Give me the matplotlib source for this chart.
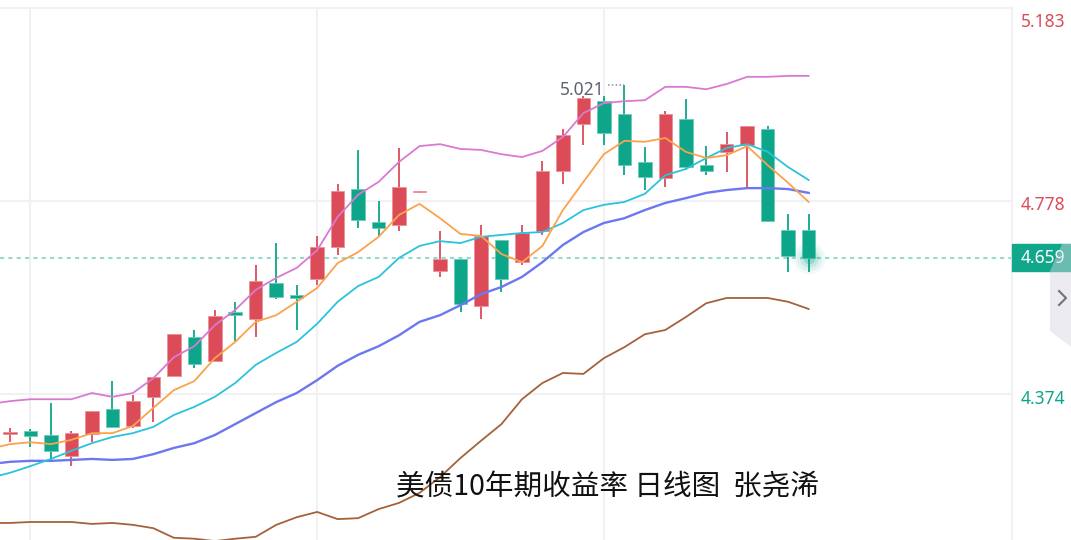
import numpy as np
import matplotlib
matplotlib.use("Agg")
import matplotlib.pyplot as plt
from matplotlib.patches import Rectangle, Polygon
from matplotlib.lines import Line2D

# ---------------- data (US 10Y yield, daily) ----------------
opens = [4.290, 4.297, 4.288, 4.244, 4.290, 4.343, 4.307, 4.368, 4.412, 4.493,
         4.443, 4.546, 4.531, 4.606, 4.581, 4.615, 4.682, 4.803, 4.734, 4.728,
         4.796, 4.632, 4.657, 4.558, 4.696, 4.650, 4.715, 4.841, 4.939, 4.987,
         4.960, 4.860, 4.826, 4.950, 4.853, 4.881, 4.895, 4.929, 4.717, 4.717]
highs = [4.303, 4.301, 4.355, 4.297, 4.338, 4.401, 4.372, 4.410, 4.500, 4.508,
         4.550, 4.567, 4.644, 4.690, 4.602, 4.705, 4.814, 4.885, 4.778, 4.889,
         4.799, 4.715, 4.657, 4.728, 4.696, 4.728, 4.862, 4.929, 4.998, 4.998,
         5.021, 4.891, 4.966, 4.992, 4.893, 4.923, 4.935, 4.935, 4.751, 4.751]
lows = [4.274, 4.263, 4.236, 4.223, 4.274, 4.305, 4.303, 4.315, 4.412, 4.428,
        4.443, 4.485, 4.493, 4.573, 4.508, 4.602, 4.665, 4.722, 4.705, 4.715,
        4.795, 4.619, 4.546, 4.531, 4.588, 4.644, 4.707, 4.814, 4.895, 4.895,
        4.832, 4.801, 4.807, 4.843, 4.832, 4.839, 4.807, 4.734, 4.629, 4.629]
closes = [4.294, 4.286, 4.255, 4.292, 4.338, 4.305, 4.359, 4.410, 4.500, 4.437,
          4.537, 4.539, 4.611, 4.577, 4.575, 4.682, 4.799, 4.738, 4.722, 4.807,
          4.798, 4.657, 4.562, 4.705, 4.615, 4.711, 4.841, 4.916, 4.994, 4.920,
          4.853, 4.828, 4.960, 4.849, 4.841, 4.897, 4.935, 4.736, 4.663, 4.659]

# indicator lines (first value belongs to the bar just left of the view)
boll_upper = [4.353, 4.359, 4.363, 4.363, 4.363, 4.376, 4.368, 4.376, 4.407, 4.451,
              4.474, 4.518, 4.550, 4.592, 4.617, 4.638, 4.675, 4.745, 4.791, 4.818,
              4.860, 4.893, 4.897, 4.887, 4.885, 4.876, 4.870, 4.883, 4.912, 4.962,
              4.983, 4.987, 4.989, 5.017, 5.017, 5.012, 5.023, 5.038, 5.038, 5.040, 5.040]
ma5 = [4.259, 4.269, 4.273, 4.269, 4.278, 4.292, 4.292, 4.307, 4.345, 4.382,
       4.401, 4.449, 4.483, 4.525, 4.539, 4.567, 4.596, 4.648, 4.671, 4.703,
       4.749, 4.772, 4.742, 4.709, 4.705, 4.667, 4.650, 4.684, 4.759, 4.818,
       4.876, 4.904, 4.902, 4.910, 4.881, 4.868, 4.874, 4.893, 4.853, 4.816, 4.776]
ma10 = [4.198, 4.209, 4.223, 4.238, 4.255, 4.271, 4.284, 4.292, 4.305, 4.330,
        4.347, 4.368, 4.397, 4.435, 4.460, 4.483, 4.521, 4.567, 4.600, 4.619,
        4.659, 4.684, 4.694, 4.690, 4.703, 4.707, 4.711, 4.713, 4.732, 4.759,
        4.770, 4.776, 4.793, 4.832, 4.845, 4.868, 4.889, 4.897, 4.881, 4.849, 4.822]
ma20 = [4.227, 4.232, 4.234, 4.234, 4.236, 4.238, 4.236, 4.238, 4.248, 4.261,
        4.271, 4.288, 4.311, 4.334, 4.357, 4.376, 4.403, 4.433, 4.456, 4.474,
        4.497, 4.525, 4.539, 4.560, 4.583, 4.598, 4.619, 4.650, 4.686, 4.713,
        4.732, 4.742, 4.759, 4.774, 4.784, 4.795, 4.801, 4.805, 4.805, 4.803, 4.795]
boll_lower = [4.104, 4.104, 4.106, 4.106, 4.106, 4.102, 4.104, 4.100, 4.093, 4.073,
              4.071, 4.066, 4.071, 4.075, 4.100, 4.116, 4.127, 4.112, 4.114, 4.133,
              4.146, 4.167, 4.200, 4.240, 4.276, 4.311, 4.363, 4.397, 4.418, 4.416,
              4.449, 4.472, 4.499, 4.508, 4.535, 4.564, 4.575, 4.575, 4.575, 4.567, 4.552]

axis_labels = [5.183, 4.778, 4.374]
last_price = 4.659
peak_label = "5.021"
title = "美债10年期收益率 日线图  张尧浠"

# ---------------- style ----------------
UP = "#DC4C58"
DOWN = "#0DA68A"
GRID = "#F1F1F4"

W, H = 1071, 540
fig = plt.figure(figsize=(W / 100, H / 100), dpi=100)
fig.patch.set_facecolor("white")

ax_right_px = 1012
top_px = 8
ax = fig.add_axes([0, 0, ax_right_px / W, 1 - top_px / H])
ax.set_xlim(-0.488, 48.93)
ax.set_ylim(4.0683, 5.1821)
ax.set_xticks([])
ax.set_yticks([])
for s in ["left", "bottom"]:
    ax.spines[s].set_visible(False)
for s in ["top", "right"]:
    ax.spines[s].set_color(GRID)
    ax.spines[s].set_linewidth(1.5)

# grid
for yv in axis_labels[1:]:
    ax.axhline(yv, color=GRID, lw=1.5, zorder=0)
for xv in [1, 15, 29]:
    ax.axvline(xv, color=GRID, lw=1.5, zorder=0)

# candles
n = len(opens)
x = np.arange(n)
o = np.array(opens); c = np.array(closes); h = np.array(highs); l = np.array(lows)
colors = [UP if ci >= oi else DOWN for oi, ci in zip(o, c)]
edges = ["#E9939A" if ci >= oi else "#6CCBB8" for oi, ci in zip(o, c)]
bottoms = np.minimum(o, c)
heights = np.maximum(np.abs(c - o), 0.0022)
ax.vlines(x, l, h, colors=colors, lw=1.3, zorder=2)
ax.bar(x, heights, bottom=bottoms, width=0.66, color=colors, zorder=3,
       edgecolor=edges, linewidth=0.6)

# lines
xl = np.arange(-1, n)
ax.plot(xl, boll_upper, color="#D97AD2", lw=1.3, zorder=4)
ax.plot(xl, boll_lower, color="#A5623A", lw=1.3, zorder=4)
ax.plot(xl, ma20, color="#6B78F0", lw=1.7, zorder=4)
ax.plot(xl, ma10, color="#2BC3DC", lw=1.3, zorder=4)
ax.plot(xl, ma5, color="#FBA24C", lw=1.3, zorder=4)

# last price dashed line
ax.axhline(last_price, color="#96DACB", lw=1.5, ls=(0, (2, 2)), zorder=1)

# glow at last close
for s, a in [(520, 0.06), (330, 0.08), (180, 0.12), (70, 0.25)]:
    ax.scatter([n - 1], [last_price], s=s, color=DOWN, alpha=a, lw=0, zorder=5)

# peak annotation
ip = int(np.argmax(h))
ax.plot([ip - 0.8, ip], [h[ip], h[ip]], color="#8A8E99", lw=1.1, ls=(0, (1, 1.5)), zorder=5)
ax.text(ip - 0.98, h[ip] - 0.010, peak_label, ha="right", va="center",
        fontsize=12.5, color="#5D6270", family=["Noto Sans", "DejaVu Sans"], zorder=6)

# right axis labels
label_pos = {5.183: 22, 4.778: 205, 4.374: 399}
for v in axis_labels:
    col = UP if v > last_price else DOWN
    fig.text(1021 / W, 1 - label_pos[v] / H, f"{v:.3f}", ha="left", va="center",
             fontsize=12.5, color=col, family=["Noto Sans", "DejaVu Sans"])

# price box
fig.patches.append(Rectangle((1012 / W, 1 - 271 / H), (W - 1012) / W, 27 / H,
                             transform=fig.transFigure, color="#10A78A", zorder=5))
fig.text(1043 / W, 1 - 258 / H, f"{last_price:.3f}", ha="center", va="center",
         fontsize=12.5, color="white", family=["Noto Sans", "DejaVu Sans"], zorder=6)

# collapse panel with chevron
pts = [(1050, 271), (1062, 244), (1071, 244), (1071, 347), (1050, 331)]
fig.patches.append(Polygon([(px / W, 1 - py / H) for px, py in pts], closed=True,
                           transform=fig.transFigure, facecolor="#D6D6DE", alpha=0.45,
                           edgecolor="none", zorder=7))
fig.lines.append(Line2D([1059 / W, 1066 / W, 1059 / W],
                        [1 - 291 / H, 1 - 298 / H, 1 - 305 / H],
                        transform=fig.transFigure, color="#6F7380", lw=1.5, zorder=8))

# title
fig.text(607 / W, 1 - 487 / H, title, ha="center", va="center", fontsize=20.6,
         color="#111111", family=["Noto Sans CJK SC", "DejaVu Sans"], zorder=9)

fig.savefig("out.png", dpi=100, facecolor="white")
